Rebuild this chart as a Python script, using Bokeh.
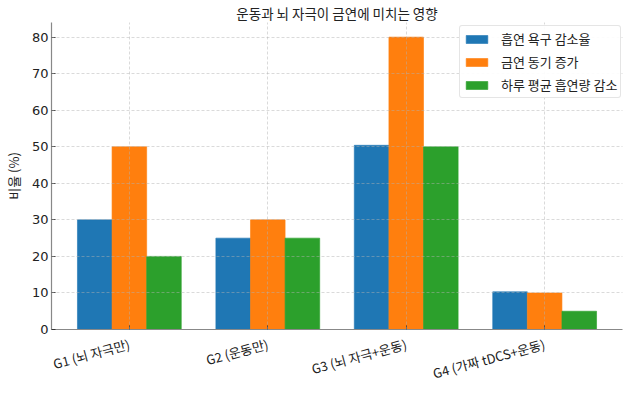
import numpy as np
from bokeh.plotting import figure
from bokeh.models import Range1d, FixedTicker, Legend, LegendItem, ColumnDataSource
from bokeh.embed import file_html
from bokeh.resources import INLINE

title_text = "운동과 뇌 자극이 금연에 미치는 영향"
y_label = "비율 (%)"
categories = ["G1 (뇌 자극만)", "G2 (운동만)", "G3 (뇌 자극+운동)", "G4 (가짜 tDCS+운동)"]
series_names = ["흡연 욕구 감소율", "금연 동기 증가", "하루 평균 흡연량 감소"]
craving = [30, 25, 50.4, 10.3]
motivation = [50, 30, 80, 10]
amount = [20, 25, 50, 5]
colors = ["#1f77b4", "#ff7f0e", "#2ca02c"]
y_ticks = [0, 10, 20, 30, 40, 50, 60, 70, 80]

FONT = "Noto Sans CJK KR"
TXT = "#222222"
bar_w = 0.25
idx = np.arange(len(categories))
x_lo, x_hi = -0.5625, 3.5625
y_lo, y_hi = 0, 84

p = figure(width=623, height=394, output_backend="svg", toolbar_location=None,
           x_range=Range1d(x_lo, x_hi), y_range=Range1d(y_lo, y_hi),
           min_border_left=40, min_border_right=1, min_border_top=4, min_border_bottom=4)

p.title.text = title_text
p.title.align = "center"
p.title.text_font = FONT
p.title.text_font_size = "13.5px"
p.title.text_font_style = "normal"
p.title.text_color = TXT
p.title.standoff = 0

items = []
for k, (vals, name) in enumerate(zip([craving, motivation, amount], series_names)):
    src = ColumnDataSource(dict(x=idx + (k - 1) * bar_w, top=vals))
    r = p.vbar(x="x", top="top", width=bar_w, bottom=0, source=src,
               fill_color=colors[k], line_color=colors[k], line_alpha=0.6, line_width=1)
    items.append(LegendItem(label=name, renderers=[r]))

p.xaxis.ticker = FixedTicker(ticks=list(idx))
p.xaxis.major_label_overrides = {int(i): c for i, c in zip(idx, categories)}
p.xaxis.major_label_orientation = np.pi / 12
p.xaxis.major_label_standoff = 14
p.xaxis.major_label_text_font = FONT
p.xaxis.major_label_text_font_size = "13px"
p.xaxis.major_label_text_color = TXT

p.yaxis.ticker = FixedTicker(ticks=y_ticks)
p.yaxis.axis_label = y_label

for ax in [p.xaxis[0], p.yaxis[0]]:
    ax.axis_line_color = "#888888"
    ax.axis_line_width = 1.2
    ax.minor_tick_line_color = None
    ax.major_tick_line_color = "#333333"
    ax.major_tick_in = 4
    ax.major_tick_out = 0
    ax.axis_label_text_font = FONT
    ax.axis_label_text_font_size = "13px"
    ax.axis_label_text_font_style = "normal"
    ax.axis_label_text_color = TXT

p.yaxis[0].major_label_text_font = "DejaVu Sans"
p.yaxis[0].major_label_text_font_size = "13px"
p.yaxis[0].major_label_text_color = TXT
p.yaxis[0].major_label_standoff = 3
p.yaxis[0].axis_label_standoff = 6

for g in [p.xgrid[0], p.ygrid[0]]:
    g.grid_line_color = "#b0b0b0"
    g.grid_line_alpha = 0.6
    g.grid_line_dash = "3 2"
    g.grid_line_width = 0.8
    g.level = "overlay"

p.outline_line_color = None

legend = Legend(items=items, location=(408, 231))
legend.label_text_font = FONT
legend.label_text_font_size = "13px"
legend.label_text_color = TXT
legend.glyph_width = 27
legend.glyph_height = 10
legend.label_height = 16
legend.label_standoff = 11
legend.spacing = 4
legend.padding = 3
legend.margin = 0
legend.border_line_color = "#cccccc"
legend.border_radius = 3
legend.background_fill_alpha = 0.9
p.add_layout(legend)

open("out.html", "w").write(file_html(p, INLINE))
